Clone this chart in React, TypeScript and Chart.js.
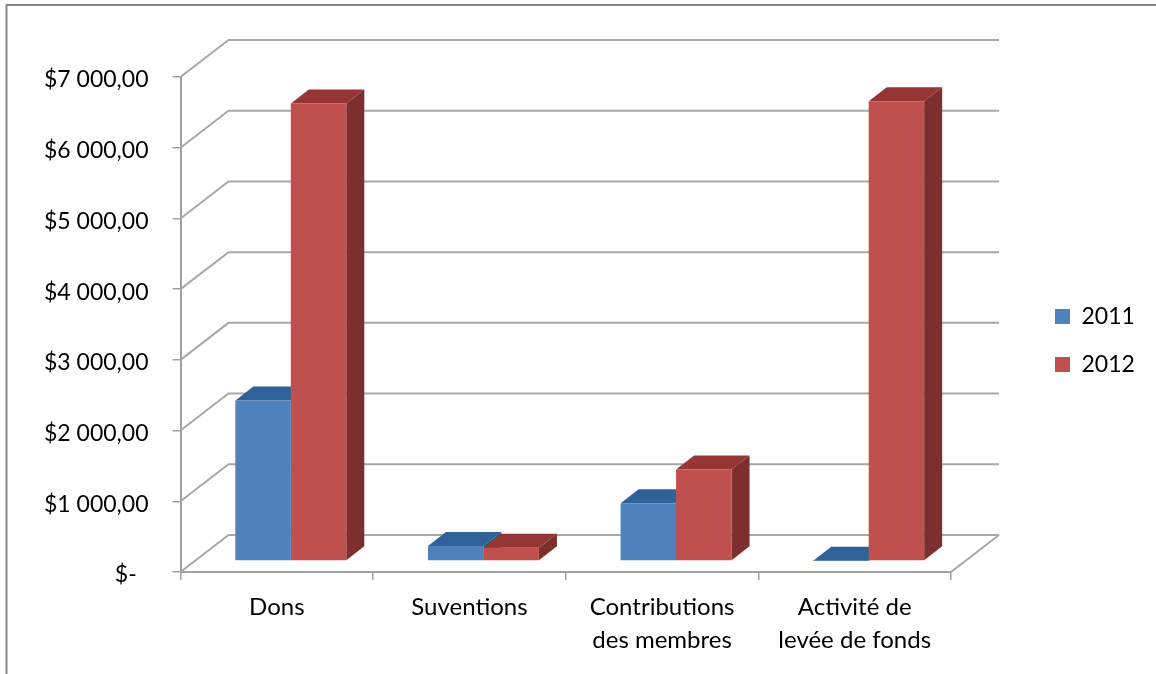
import React, { useEffect, useRef } from "react";
import { Chart, registerables } from "chart.js";

Chart.register(...registerables);

const categories = ["Dons", "Suventions", ["Contributions", "des membres"], ["Activité de", "levée de fonds"]];
const series2011 = [2270, 212, 815, 5];
const series2012 = [6470, 188, 1295, 6500];
const yTickLabels = ["$-  ", "$1 000,00", "$2 000,00", "$3 000,00", "$4 000,00", "$5 000,00", "$6 000,00", "$7 000,00"];

const FAMILY = "Lato, Carlito, sans-serif";
const GRID = "#a8a8a8";
const AXIS = "#a0a0a0";
const WALL_DX = 48;
const WALL_DY = 37;
const BAR_SHIFT_X = 14;
const BAR_SHIFT_Y = 11;
const BAR_DX = 18;
const BAR_DY = 14;

const FACES = [
  { top: "#2f6299", side: "#2a5686" },
  { top: "#953635", side: "#7c2f2d" },
];

function poly(ctx: CanvasRenderingContext2D, pts: number[][], fill: string) {
  ctx.beginPath();
  pts.forEach((p, i) => (i ? ctx.lineTo(p[0], p[1]) : ctx.moveTo(p[0], p[1])));
  ctx.closePath();
  ctx.fillStyle = fill;
  ctx.fill();
}

const scene3d = {
  id: "scene3d",
  beforeLayout(chart: any) {
    const legend = chart.legend;
    if (legend && !legend.__wrapped) {
      const fit = legend.fit;
      legend.fit = function () {
        fit.call(this);
        this.width = 205;
      };
      legend.__wrapped = true;
    }
  },
  afterLayout(chart: any) {
    const legend = chart.legend;
    const pad = legend.options.labels.padding;
    legend.left = 1055 - pad;
    legend.right = 1156;
    legend.top = 305 - pad;
    legend.bottom = 674;
  },
  beforeDraw(chart: any) {
    const ctx = chart.ctx;
    ctx.save();
    ctx.strokeStyle = "#868686";
    ctx.lineWidth = 2;
    ctx.beginPath();
    ctx.moveTo(6.5, 674);
    ctx.lineTo(6.5, 5);
    ctx.lineTo(1156, 5);
    ctx.stroke();
    ctx.restore();
  },
  beforeDatasetsDraw(chart: any) {
    const ctx = chart.ctx;
    const { left, right, bottom } = chart.chartArea;
    const y = chart.scales.y;
    ctx.save();
    ctx.strokeStyle = GRID;
    ctx.lineWidth = 2;
    y.ticks.forEach((t: any) => {
      const py = y.getPixelForValue(t.value);
      ctx.beginPath();
      ctx.moveTo(left, py);
      ctx.lineTo(left + WALL_DX, py - WALL_DY);
      ctx.lineTo(right + WALL_DX, py - WALL_DY);
      ctx.stroke();
    });
    ctx.beginPath();
    ctx.moveTo(right, bottom);
    ctx.lineTo(right + WALL_DX, bottom - WALL_DY);
    ctx.stroke();
    ctx.restore();

    ctx.save();
    ctx.translate(BAR_SHIFT_X, -BAR_SHIFT_Y);
    chart.data.datasets.forEach((_: any, di: number) => {
      chart.getDatasetMeta(di).data.forEach((el: any) => {
        const { x, y: top, base, width } = el.getProps(["x", "y", "base", "width"], true);
        const l = x - width / 2;
        const r = x + width / 2;
        poly(ctx, [[l, top], [r, top], [r + BAR_DX, top - BAR_DY], [l + BAR_DX, top - BAR_DY]], FACES[di].top);
        poly(ctx, [[r, top], [r + BAR_DX, top - BAR_DY], [r + BAR_DX, base - BAR_DY], [r, base]], FACES[di].side);
      });
    });
    ctx.restore();
    ctx.save();
    ctx.translate(BAR_SHIFT_X, -BAR_SHIFT_Y);
  },
  afterDatasetsDraw(chart: any) {
    chart.ctx.restore();
  },
};

export default function App() {
  const ref = useRef<HTMLCanvasElement | null>(null);
  useEffect(() => {
    const chart = new Chart(ref.current as HTMLCanvasElement, {
      type: "bar",
      data: {
        labels: categories as any,
        datasets: [
          { label: "2011", data: series2011, backgroundColor: "#4f81bd", borderWidth: 0, clip: false as any },
          { label: "2012", data: series2012, backgroundColor: "#c0504d", borderWidth: 0, clip: false as any },
        ],
      },
      options: {
        animation: false,
        responsive: false,
        devicePixelRatio: 1,
        layout: { padding: { top: 77, left: 0, right: 0, bottom: 0 } },
        datasets: { bar: { categoryPercentage: 0.576, barPercentage: 1 } },
        plugins: {
          title: { display: false },
          tooltip: { enabled: false },
          legend: {
            position: "right",
            align: "start",
            labels: { color: "#000", font: { family: FAMILY, size: 23 }, boxWidth: 15, boxHeight: 15, padding: 25 },
          },
        },
        scales: {
          x: {
            afterFit(scale: any) {
              scale.height = 102;
            },
            grid: { drawOnChartArea: false, tickLength: 8, color: AXIS, lineWidth: 1.5 },
            border: { color: AXIS, width: 2 },
            ticks: {
              color: "#000",
              font: { family: FAMILY, size: 24, lineHeight: 1.375 },
              padding: 11,
              maxRotation: 0,
              minRotation: 0,
              autoSkip: false,
            },
          },
          y: {
            min: 0,
            max: 7000,
            afterFit(scale: any) {
              scale.width = 180.5;
            },
            grid: { drawOnChartArea: false, tickLength: 8, color: AXIS, lineWidth: 1.5 },
            border: { color: AXIS, width: 2 },
            ticks: {
              stepSize: 1000,
              color: "#000",
              font: { family: FAMILY, size: 23 },
              padding: 24,
              labelOffset: 3,
              callback: (_v: any, i: number) => yTickLabels[i],
            },
          },
        },
      },
      plugins: [scene3d],
    } as any);
    return () => chart.destroy();
  }, []);
  return (
    <div style={{ position: "absolute", left: 0, top: 0, width: 1156, height: 674, background: "#fff" }}>
      <canvas ref={ref} width={1156} height={674} style={{ display: "block", width: 1156, height: 674 }} />
    </div>
  );
}
